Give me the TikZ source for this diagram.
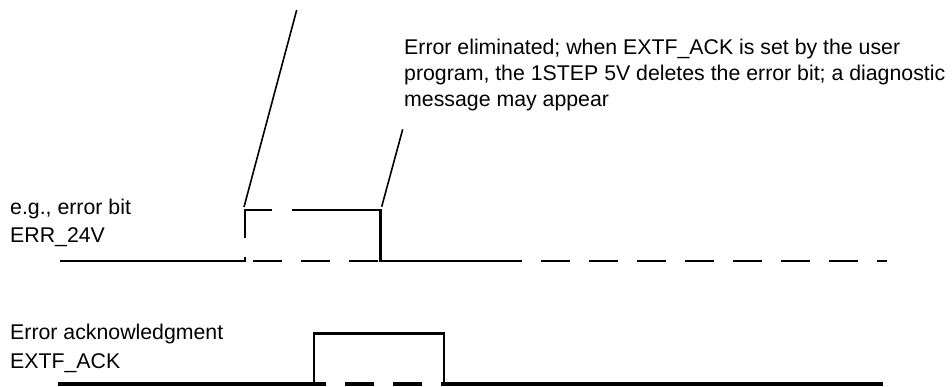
\documentclass[tikz,border=0pt]{standalone}
\usepackage{fontspec}
\setmainfont{Liberation Sans}
\begin{document}
\begin{tikzpicture}[x=1pt,y=-1pt,
  lbl/.style={anchor=base west,inner sep=0pt,font=\fontsize{21.3}{25}\selectfont},
  sig/.style={line width=2.8pt},
  acksig/.style={line width=3.2pt},
  dsh/.style={line width=2.8pt,dash pattern=on 29pt off 19pt},
  lead/.style={line width=1.6pt}]
\useasboundingbox (0,0) rectangle (952,386);
% annotation text
\node[lbl] (t1) at (404,54) {Error eliminated; when EXTF\_ACK is set by the user};
\node[lbl] (t2) at (404,80) {program, the 1STEP 5V deletes the error bit; a diagnostic};
\node[lbl] (t3) at (404,106) {message may appear};
% signal labels
\node[lbl] (l1a) at (10,214) {e.g., error bit};
\node[lbl] (l1b) at (10,242.7) {ERR\_24V};
\node[lbl] (l2a) at (10,339.5) {Error acknowledgment};
\node[lbl] (l2b) at (10,368.3) {EXTF\_ACK};
% leader line end points
\coordinate (a1) at (296.7,10);
\coordinate (a2) at (244,207);
\coordinate (b1) at (402.7,129.3);
\coordinate (b2) at (381.7,206.7);
\draw[lead] (a1) -- (a2);
\draw[lead] (b1) -- (b2);
% error bit signal
\coordinate (e0) at (60,261);
\coordinate (e1) at (245,261);
\coordinate (e2) at (245,256.7);
\coordinate (e3) at (245,237.7);
\coordinate (e4) at (245,210);
\coordinate (e5) at (272.3,210);
\coordinate (e6) at (292.3,210);
\coordinate (e7) at (380.7,210);
\coordinate (e8) at (380.7,261);
\coordinate (e9) at (521,261);
\coordinate (d0) at (252.7,261);
\coordinate (d1) at (887,261);
\draw[sig] (e0) -- (e1) -- (e2);
\draw[sig] (e3) -- (e4) -- (e5);
\draw[sig] (e6) -- (e7) -- (e8) -- (e9);
\draw[dsh] (d0) -- (d1);
% acknowledgment signal
\coordinate (k0) at (58,384);
\coordinate (k1) at (326,384);
\coordinate (k2) at (314,384);
\coordinate (k3) at (314,333.3);
\coordinate (k4) at (444,333.3);
\coordinate (k5) at (444,384);
\coordinate (k6) at (441.7,384);
\coordinate (k7) at (883,384);
\coordinate (k8) at (297,384);
\draw[acksig] (k0) -- (k1);
\draw[sig] (k2) -- (k3) -- (k4) -- (k5);
\draw[acksig] (k6) -- (k7);
\draw[acksig,dash pattern=on 29pt off 19pt] (k8) -- (k6);
\end{tikzpicture}
\end{document}
